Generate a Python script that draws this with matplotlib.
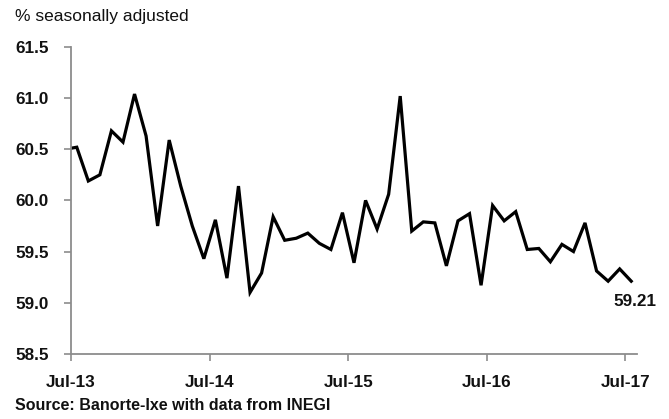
import matplotlib
matplotlib.use("Agg")
import matplotlib.pyplot as plt
import numpy as np

plt.rcParams['font.family'] = ['Liberation Sans', 'DejaVu Sans']

# Monthly values, Jun-13 .. Jul-17 (Jun-13 only to carry the line to the axis edge)
months = ["Jun-13",
          "Jul-13", "Aug-13", "Sep-13", "Oct-13", "Nov-13", "Dec-13",
          "Jan-14", "Feb-14", "Mar-14", "Apr-14", "May-14", "Jun-14",
          "Jul-14", "Aug-14", "Sep-14", "Oct-14", "Nov-14", "Dec-14",
          "Jan-15", "Feb-15", "Mar-15", "Apr-15", "May-15", "Jun-15",
          "Jul-15", "Aug-15", "Sep-15", "Oct-15", "Nov-15", "Dec-15",
          "Jan-16", "Feb-16", "Mar-16", "Apr-16", "May-16", "Jun-16",
          "Jul-16", "Aug-16", "Sep-16", "Oct-16", "Nov-16", "Dec-16",
          "Jan-17", "Feb-17", "Mar-17", "Apr-17", "May-17", "Jun-17",
          "Jul-17"]
values = [60.50,
          60.52, 60.19, 60.25, 60.68, 60.57, 61.04,
          60.63, 59.75, 60.59, 60.14, 59.75, 59.43,
          59.81, 59.24, 60.14, 59.10, 59.29, 59.84,
          59.61, 59.63, 59.68, 59.58, 59.52, 59.88,
          59.39, 60.00, 59.72, 60.06, 61.02, 59.70,
          59.79, 59.78, 59.36, 59.80, 59.87, 59.17,
          59.95, 59.80, 59.89, 59.52, 59.53, 59.40,
          59.57, 59.50, 59.78, 59.31, 59.21, 59.33,
          59.21]
tick_labels = ["Jul-13", "Jul-14", "Jul-15", "Jul-16", "Jul-17"]
y_ticks = [58.5, 59.0, 59.5, 60.0, 60.5, 61.0, 61.5]
last_label = "59.21"

# month positions: Jul-13 mid-month at 0.5
x = np.arange(len(values)) - 1 + 0.5

fig = plt.figure(figsize=(6.69, 4.19), dpi=100)
ax = fig.add_axes([71/669, 1 - 353.8/419, (637 - 71)/669, (353.8 - 47)/419])

ax.plot(x, values, color='black', lw=2.3, solid_joinstyle='miter', clip_on=True)

ax.set_xlim(0, 49)
ax.set_ylim(58.5, 61.5)
ax.set_yticks(y_ticks)
ax.set_yticklabels([f"{v:.1f}" for v in y_ticks])
ax.set_xticks([0, 12, 24, 36, 48])
ax.set_xticklabels(tick_labels)

gray = '#8c8c8c'
for s in ['top', 'right']:
    ax.spines[s].set_visible(False)
for s in ['left', 'bottom']:
    ax.spines[s].set_color(gray)
    ax.spines[s].set_linewidth(1.3)

ax.tick_params(axis='y', direction='out', length=5, width=1.2, color=gray, pad=11,
               labelsize=12.3)
ax.tick_params(axis='x', direction='out', length=5, width=1.2, color=gray, pad=10,
               labelsize=12.3)
for lab in ax.get_xticklabels() + ax.get_yticklabels():
    lab.set_fontweight('bold')
    lab.set_color('#111111')

ax.annotate(last_label, xy=(x[-1], values[-1]), xytext=(-12.5, -9),
            textcoords='offset points', ha='left', va='top',
            fontsize=12.3, fontweight='bold', color='#111111')

fig.text(15/669, 1 - 17/419, "% seasonally adjusted", fontsize=12.5, ha='left', va='center',
         color='#111111')
fig.text(15/669, 1 - 405/419, "Source: Banorte-Ixe with data from INEGI", fontsize=11.5,
         fontweight='bold', ha='left', va='center', color='#111111')

fig.savefig("out.png", dpi=100)
